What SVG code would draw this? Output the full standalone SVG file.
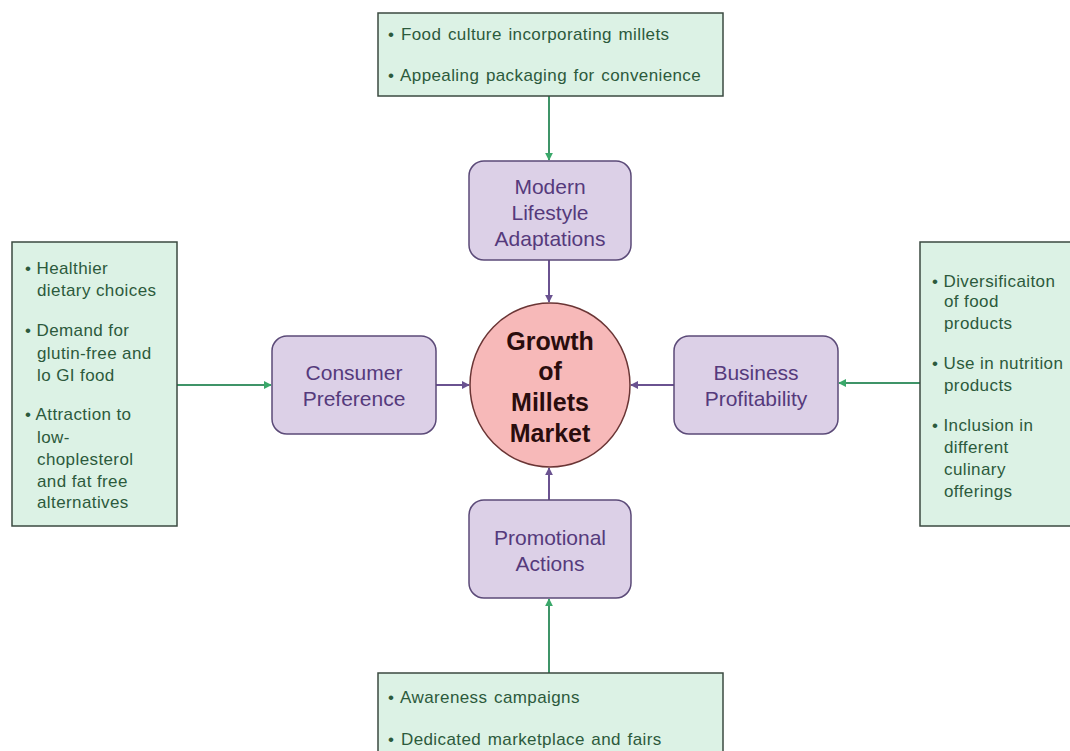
<svg xmlns="http://www.w3.org/2000/svg" width="1070" height="751" viewBox="0 0 1070 751">
<defs>
<style>
.g{fill:#dcf2e5;stroke:#3b4a40;stroke-width:1.5}
.p{fill:#dcd0e7;stroke:#5b4a78;stroke-width:1.5}
.gt{font-family:"Liberation Sans",Arial,sans-serif;font-size:17px;letter-spacing:0.4px;fill:#2c5a3c}
.pt{font-family:"Liberation Sans",Arial,sans-serif;font-size:21px;fill:#553a7c;text-anchor:middle}
.ct{font-family:"Liberation Sans",Arial,sans-serif;font-size:25px;font-weight:bold;fill:#2a0d0d;text-anchor:middle}
.ga{stroke:#3f9468;stroke-width:2;fill:none;marker-end:url(#mg)}
.pa{stroke:#6a5290;stroke-width:2;fill:none;marker-end:url(#mp)}
</style>
<marker id="mg" viewBox="0 0 10 10" refX="9" refY="5" markerWidth="4" markerHeight="4" orient="auto"><path d="M0,0 L10,5 L0,10 z" fill="#3aa86a"/></marker>
<marker id="mp" viewBox="0 0 10 10" refX="9" refY="5" markerWidth="4" markerHeight="4" orient="auto"><path d="M0,0 L10,5 L0,10 z" fill="#6a5290"/></marker>
</defs>
<rect width="1070" height="751" fill="#ffffff"/>
<g id="connectors">
<line class="ga" x1="549" y1="96" x2="549" y2="160"/>
<line class="ga" x1="549" y1="673" x2="549" y2="599"/>
<line class="ga" x1="177" y1="385" x2="271" y2="385"/>
<line class="ga" x1="920" y1="383" x2="839" y2="383"/>
<line class="pa" x1="549" y1="260" x2="549" y2="302"/>
<line class="pa" x1="549" y1="500" x2="549" y2="468"/>
<line class="pa" x1="436" y1="385" x2="469" y2="385"/>
<line class="pa" x1="674" y1="385" x2="631" y2="385"/>
</g>
<g id="top-box">
<rect class="g" x="378" y="13" width="345" height="83"/>
<text class="gt" x="388" y="40" word-spacing="1.5">• Food culture incorporating millets</text>
<text class="gt" x="388" y="81" word-spacing="1.5">• Appealing packaging for convenience</text>
</g>
<g id="left-box">
<rect class="g" x="12" y="242" width="165" height="284"/>
<text class="gt"><tspan x="25" y="274">• Healthier</tspan><tspan x="37" y="296">dietary choices</tspan><tspan x="25" y="336">• Demand for</tspan><tspan x="37" y="359">glutin-free and</tspan><tspan x="37" y="381">lo GI food</tspan><tspan x="25" y="420">• Attraction to</tspan><tspan x="37" y="443">low-</tspan><tspan x="37" y="465">choplesterol</tspan><tspan x="37" y="487">and fat free</tspan><tspan x="37" y="508">alternatives</tspan></text>
</g>
<g id="right-box">
<rect class="g" x="920" y="242" width="160" height="284"/>
<text class="gt"><tspan x="932" y="287">• Diversificaiton</tspan><tspan x="944" y="307">of food</tspan><tspan x="944" y="329">products</tspan><tspan x="932" y="369">• Use in nutrition</tspan><tspan x="944" y="391">products</tspan><tspan x="932" y="431">• Inclusion in</tspan><tspan x="944" y="453">different</tspan><tspan x="944" y="475">culinary</tspan><tspan x="944" y="497">offerings</tspan></text>
</g>
<g id="bottom-box">
<rect class="g" x="378" y="673" width="345" height="90"/>
<text class="gt" x="388" y="703" word-spacing="1.5">• Awareness campaigns</text>
<text class="gt" x="388" y="745" word-spacing="1.5">• Dedicated marketplace and fairs</text>
</g>
<g id="modern">
<rect class="p" x="469" y="161" width="162" height="99" rx="15"/>
<text class="pt"><tspan x="550" y="194">Modern</tspan><tspan x="550" y="220">Lifestyle</tspan><tspan x="550" y="246">Adaptations</tspan></text>
</g>
<g id="consumer">
<rect class="p" x="272" y="336" width="164" height="98" rx="15"/>
<text class="pt"><tspan x="354" y="380">Consumer</tspan><tspan x="354" y="406">Preference</tspan></text>
</g>
<g id="business">
<rect class="p" x="674" y="336" width="164" height="98" rx="15"/>
<text class="pt"><tspan x="756" y="380">Business</tspan><tspan x="756" y="406">Profitability</tspan></text>
</g>
<g id="promotional">
<rect class="p" x="469" y="500" width="162" height="98" rx="15"/>
<text class="pt"><tspan x="550" y="545">Promotional</tspan><tspan x="550" y="571">Actions</tspan></text>
</g>
<g id="center">
<ellipse cx="550" cy="385" rx="80" ry="82" fill="#f7b9b9" stroke="#6a3535" stroke-width="1.5"/>
<text class="ct"><tspan x="550" y="350">Growth</tspan><tspan x="550" y="380">of</tspan><tspan x="550" y="411">Millets</tspan><tspan x="550" y="442">Market</tspan></text>
</g>
</svg>
